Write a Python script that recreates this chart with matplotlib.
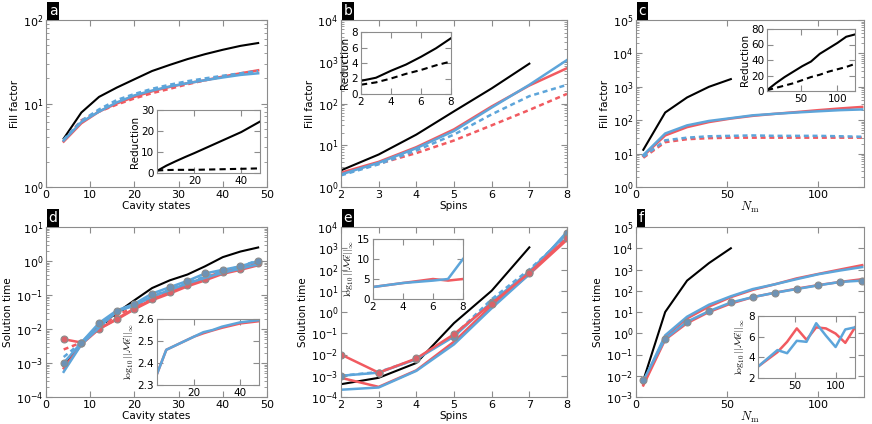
import matplotlib
matplotlib.use("Agg")
import matplotlib.pyplot as plt
from matplotlib.ticker import LogLocator

# Цвета
RED = "#F15A60"
BLUE = "#5DA5DA"
GREY = "#8c8c8c"

# ---- a: Fill factor vs cavity states
cav = [4, 8, 12, 16, 20, 24, 28, 32, 36, 40, 44, 48]
a_black = [3.8, 7.8, 12, 15.5, 19.5, 24.5, 29, 34, 39, 44, 49, 53]
a_blue = [3.6, 6.0, 8.0, 10.3, 12.5, 14.3, 16, 17.5, 19, 20.5, 22, 23]
a_blue_d = [3.7, 6.2, 8.5, 11, 13, 15, 16.8, 18.5, 20, 21.5, 23, 24.5]
a_red = [3.5, 5.8, 8.0, 10, 12, 14, 15.8, 17.5, 19, 21, 23, 25]
a_red_d = [3.6, 6.3, 8.0, 9.7, 11.5, 13.3, 15, 17, 19, 21, 22.8, 24.5]
a_in_solid = [1, 3.5, 5.6, 7.6, 9.5, 11.5, 13.5, 15.5, 17.5, 19.5, 22, 24.5]
a_in_dash = [1.2, 1.4, 1.5, 1.5, 1.5, 1.6, 1.7, 1.8, 1.9, 2.0, 2.1, 2.2]

# ---- b: Fill factor vs spins
spins = [2, 3, 4, 5, 6, 7, 8]
b_black = [2.5, 6, 18, 65, 230, 900]
b_blue = [2.0, 3.8, 8.5, 22, 80, 280, 1100]
b_red = [2.2, 4.0, 9.0, 24, 85, 270, 700]
b_blue_d = [1.9, 3.5, 7.5, 18, 55, 150, 280]
b_red_d = [2.0, 3.6, 6.5, 13, 30, 70, 170]
b_in_solid = [1.7, 2.1, 3.0, 3.8, 4.8, 5.9, 7.2]
b_in_dash = [1.2, 1.5, 2.0, 2.6, 3.1, 3.7, 4.2]

# ---- c: Fill factor vs N_m
nm = [4, 16, 28, 40, 52, 64, 76, 88, 100, 112, 124]
c_black = [13, 170, 480, 1000, 1700]
c_blue = [9, 40, 70, 95, 115, 140, 155, 170, 185, 200, 210]
c_red = [8.5, 35, 62, 88, 112, 135, 155, 175, 200, 225, 250]
c_blue_d = [8, 25, 30, 33, 34, 35, 34, 34, 34, 33, 32]
c_red_d = [7.5, 22, 27, 29, 30, 30, 30, 30, 30, 30, 30]
c_in_solid = [1, 10, 18, 25, 32, 38, 48, 55, 62, 70, 73]
c_in_dash = [1, 4, 7, 10, 14, 18, 21, 25, 28, 31, 35]

# ---- d: Solution time vs cavity states
d_black = [8e-4, 3.5e-3, 1.2e-2, 3e-2, 7e-2, 0.16, 0.27, 0.4, 0.7, 1.3, 1.9, 2.5]
d_black_d = [7e-4, 4e-3, 1.1e-2, 2.8e-2, 6e-2]
d_blue_m = [1e-3, 4e-3, 1.5e-2, 3.5e-2, 5.5e-2, 0.11, 0.17, 0.26, 0.43, 0.55, 0.7, 1.0]
d_blue = [5.5e-4, 3.5e-3, 1.1e-2, 3.3e-2, 5e-2, 9e-2, 0.14, 0.22, 0.32, 0.45, 0.6, 0.8]
d_blue_d = [1.5e-3, 4e-3, 1.3e-2, 3.2e-2, 5e-2, 9e-2, 0.15, 0.23, 0.35, 0.5, 0.7, 1.05]
d_red_m = [5e-3, 4e-3, 1e-2, 2e-2, 4e-2, 7.5e-2, 0.12, 0.2, 0.3, 0.48, 0.6, 0.85]
d_red = [7e-4, 3.5e-3, 1e-2, 1.9e-2, 3.8e-2, 7e-2, 0.11, 0.18, 0.27, 0.42, 0.55, 0.75]
d_red_d = [2.5e-3, 4e-3, 1.1e-2, 2.5e-2, 4.5e-2, 8e-2, 0.13, 0.21, 0.32, 0.5, 0.65, 0.9]
d_in_blue = [2.35, 2.46, 2.48, 2.50, 2.52, 2.54, 2.55, 2.565, 2.575, 2.585, 2.59, 2.595]
d_in_red = [2.35, 2.46, 2.48, 2.50, 2.52, 2.535, 2.548, 2.56, 2.57, 2.58, 2.585, 2.59]

# ---- e: Solution time vs spins
e_black = [4e-4, 8e-4, 4e-3, 0.3, 10, 1100]
e_red_m = [1e-2, 1.4e-3, 6.5e-3, 0.09, 2.5, 70, 3000]
e_red = [8e-4, 3e-4, 1.8e-3, 4e-2, 2, 60, 2500]
e_blue_m = [1e-3, 1.4e-3, 6e-3, 7e-2, 3, 80, 5000]
e_blue = [2.2e-4, 2.8e-4, 1.7e-3, 3e-2, 1.5, 60, 6000]
e_blue_d = [1e-3, 1.5e-3, 6e-3, 8e-2, 4, 100, 4000]
e_in_blue = [3, 3.5, 4, 4.3, 4.6, 5, 10]
e_in_red = [3, 3.5, 4, 4.5, 5, 4.6, 5]

# ---- f: Solution time vs N_m
f_black = [6e-3, 10, 300, 2000, 1e4]
f_blue = [5e-3, 0.8, 6, 22, 55, 120, 200, 350, 600, 900, 1300]
f_red = [4e-3, 0.7, 5, 18, 50, 110, 200, 380, 620, 1000, 1600]
f_blue_m = [6e-3, 0.55, 3.5, 11, 28, 50, 80, 120, 180, 260, 300]
f_red_m = [3.5e-3, 0.5, 3, 10, 25, 50, 80, 125, 185, 260, 350]
f_in_red = [3.1, 3.8, 4.5, 5.5, 6.8, 5.7, 6.9, 6.8, 6.3, 5.4, 6.9]
f_in_blue = [3.1, 3.9, 4.7, 4.4, 5.6, 5.5, 7.3, 6.1, 5.0, 6.7, 6.9]

W, H = 872, 424
fig = plt.figure(figsize=(W / 100, H / 100), dpi=100)
LFS = 7.5   # axis labels
TFS = 8     # tick labels
IFS = 7.5   # insets
NORM_LABEL = r"$\log_{10}||\mathcal{M}\vec{\epsilon}||_\infty$"


def px_axes(x0, x1, y0, y1):
    return fig.add_axes([x0 / W, 1 - y1 / H, (x1 - x0) / W, (y1 - y0) / H])


def style(ax, fs=TFS):
    for s in ax.spines.values():
        s.set_color(GREY)
    ax.tick_params(which="both", direction="in", top=True, right=True,
                   labelsize=fs, color=GREY, pad=2)
    ax.tick_params(which="major", length=4)
    ax.tick_params(which="minor", length=2)


def logy(ax):
    ax.set_yscale("log")
    ax.yaxis.set_major_locator(LogLocator(base=10, numticks=20))


def tag(ax, letter):
    ax.text(0.012, 1.012, letter, transform=ax.transAxes, ha="left", va="bottom",
            color="white", fontsize=10,
            bbox=dict(boxstyle="square,pad=0.12", facecolor="black", edgecolor="none"))


lw = 1.8
dash = (0, (2, 1.5))

# a
ax = px_axes(46, 267, 20, 187)
logy(ax)
ax.plot(cav, a_black, color="black", lw=1.5)
ax.plot(cav, a_red, color=RED, lw=lw)
ax.plot(cav, a_red_d, color=RED, lw=lw, ls=dash)
ax.plot(cav, a_blue, color=BLUE, lw=lw)
ax.plot(cav, a_blue_d, color=BLUE, lw=lw, ls=dash)
ax.set_xlim(0, 50)
ax.set_ylim(1, 100)
ax.set_xlabel("Cavity states", fontsize=LFS, labelpad=1)
ax.set_ylabel("Fill factor", fontsize=LFS, labelpad=2)
style(ax)
tag(ax, "a")
ia = px_axes(157, 260, 110, 173)
ia.plot(cav, a_in_solid, color="black", lw=1.5)
ia.plot(cav, a_in_dash, color="black", lw=1.5, ls=(0, (3, 2)))
ia.set_xlim(4, 48)
ia.set_ylim(0, 30)
ia.set_xticks([20, 40])
ia.set_yticks([0, 10, 20, 30])
ia.set_ylabel("Reduction", fontsize=IFS, labelpad=1)
style(ia, IFS)

# b
ax = px_axes(341, 567, 20, 187)
logy(ax)
ax.plot(spins[:6], b_black, color="black", lw=1.5)
ax.plot(spins, b_red, color=RED, lw=lw)
ax.plot(spins, b_red_d, color=RED, lw=lw, ls=dash)
ax.plot(spins, b_blue, color=BLUE, lw=lw)
ax.plot(spins, b_blue_d, color=BLUE, lw=lw, ls=dash)
ax.set_xlim(2, 8)
ax.set_ylim(1, 1e4)
ax.set_xlabel("Spins", fontsize=LFS, labelpad=1)
ax.set_ylabel("Fill factor", fontsize=LFS, labelpad=2)
style(ax)
tag(ax, "b")
ib = px_axes(361, 451, 32, 94)
ib.plot(spins, b_in_solid, color="black", lw=1.5)
ib.plot(spins, b_in_dash, color="black", lw=1.5, ls=(0, (3, 2)))
ib.set_xlim(2, 8)
ib.set_ylim(0, 8)
ib.set_xticks([2, 4, 6, 8])
ib.set_yticks([0, 2, 4, 6, 8])
ib.set_ylabel("Reduction", fontsize=IFS, labelpad=1)
style(ib, IFS)

# c
ax = px_axes(636, 864, 20, 187)
logy(ax)
ax.plot(nm[:5], c_black, color="black", lw=1.5)
ax.plot(nm, c_red, color=RED, lw=lw)
ax.plot(nm, c_red_d, color=RED, lw=lw, ls=dash)
ax.plot(nm, c_blue, color=BLUE, lw=lw)
ax.plot(nm, c_blue_d, color=BLUE, lw=lw, ls=dash)
ax.set_xlim(0, 125)
ax.set_ylim(1, 1e5)
ax.set_xticks([0, 50, 100])
ax.set_xlabel(r"$N_\mathrm{m}$", fontsize=LFS + 1.5, labelpad=0, math_fontfamily="cm")
ax.set_ylabel("Fill factor", fontsize=LFS, labelpad=2)
style(ax)
tag(ax, "c")
ic = px_axes(767, 855, 29, 91)
ic.plot(nm, c_in_solid, color="black", lw=1.5)
ic.plot(nm, c_in_dash, color="black", lw=1.5, ls=(0, (3, 2)))
ic.set_xlim(4, 124)
ic.set_ylim(0, 80)
ic.set_xticks([50, 100])
ic.set_yticks([0, 20, 40, 60, 80])
ic.set_ylabel("Reduction", fontsize=IFS, labelpad=1)
style(ic, IFS)

mk = dict(marker="o", markersize=5, markeredgecolor=GREY, markeredgewidth=0.8)

# d
ax = px_axes(46, 267, 227, 397)
logy(ax)
ax.plot(cav, d_black, color="black", lw=1.5)
ax.plot(cav[:5], d_black_d, color="black", lw=1.5, ls=(0, (3, 2)))
ax.plot(cav, d_red, color=RED, lw=lw)
ax.plot(cav, d_red_d, color=RED, lw=lw, ls=dash)
ax.plot(cav, d_red_m, color=RED, lw=lw, markerfacecolor="#d9636a", **mk)
ax.plot(cav, d_blue, color=BLUE, lw=lw)
ax.plot(cav, d_blue_d, color=BLUE, lw=lw, ls=dash)
ax.plot(cav, d_blue_m, color=BLUE, lw=lw, markerfacecolor="#6d92b5", **mk)
ax.set_xlim(0, 50)
ax.set_ylim(1e-4, 10)
ax.set_xlabel("Cavity states", fontsize=LFS, labelpad=1)
ax.set_ylabel("Solution time", fontsize=LFS, labelpad=2)
style(ax)
tag(ax, "d")
idd = px_axes(157, 259, 319, 385)
idd.plot(cav, d_in_red, color=RED, lw=lw)
idd.plot(cav, d_in_blue, color=BLUE, lw=lw)
idd.set_xlim(4, 48)
idd.set_ylim(2.3, 2.6)
idd.set_xticks([20, 40])
idd.set_yticks([2.3, 2.4, 2.5, 2.6])
idd.set_ylabel(NORM_LABEL, fontsize=IFS - 0.5, labelpad=1, math_fontfamily="cm")
style(idd, IFS)

# e
ax = px_axes(341, 567, 227, 397)
logy(ax)
ax.plot(spins[:6], e_black, color="black", lw=1.5)
ax.plot(spins, e_red, color=RED, lw=lw)
ax.plot(spins, e_blue, color=BLUE, lw=lw)
ax.plot(spins, e_blue_d, color=BLUE, lw=lw, ls=dash)
ax.plot(spins, e_blue_m, color=BLUE, lw=lw, markerfacecolor="#6d92b5", **mk)
ax.plot(spins, e_red_m, color=RED, lw=lw, markerfacecolor="#d9636a", **mk)
ax.set_xlim(2, 8)
ax.set_ylim(1e-4, 1e4)
ax.set_xlabel("Spins", fontsize=LFS, labelpad=1)
ax.set_ylabel("Solution time", fontsize=LFS, labelpad=2)
style(ax)
tag(ax, "e")
ie = px_axes(373, 463, 239, 299)
ie.plot(spins, e_in_red, color=RED, lw=lw)
ie.plot(spins, e_in_blue, color=BLUE, lw=lw)
ie.set_xlim(2, 8)
ie.set_ylim(0, 15)
ie.set_xticks([2, 4, 6, 8])
ie.set_yticks([0, 5, 10, 15])
ie.set_ylabel(NORM_LABEL, fontsize=IFS - 0.5, labelpad=1, math_fontfamily="cm")
style(ie, IFS)

# f
ax = px_axes(636, 864, 227, 397)
logy(ax)
ax.plot(nm[:5], f_black, color="black", lw=1.5)
ax.plot(nm, f_red, color=RED, lw=lw)
ax.plot(nm, f_blue, color=BLUE, lw=lw)
ax.plot(nm, f_red_m, color=RED, lw=lw)
ax.plot(nm, f_blue_m, color=BLUE, lw=lw, markerfacecolor="#6d92b5", **mk)
ax.set_xlim(0, 125)
ax.set_ylim(1e-3, 1e5)
ax.set_xticks([0, 50, 100])
ax.set_xlabel(r"$N_\mathrm{m}$", fontsize=LFS + 1.5, labelpad=0, math_fontfamily="cm")
ax.set_ylabel("Solution time", fontsize=LFS, labelpad=2)
style(ax)
tag(ax, "f")
iff = px_axes(758, 855, 316, 378)
iff.plot(nm, f_in_red, color=RED, lw=lw)
iff.plot(nm, f_in_blue, color=BLUE, lw=lw)
iff.set_xlim(4, 124)
iff.set_ylim(2, 8)
iff.set_xticks([50, 100])
iff.set_yticks([2, 4, 6, 8])
iff.set_ylabel(NORM_LABEL, fontsize=IFS - 0.5, labelpad=1, math_fontfamily="cm")
style(iff, IFS)

fig.savefig("out.png", dpi=100)
